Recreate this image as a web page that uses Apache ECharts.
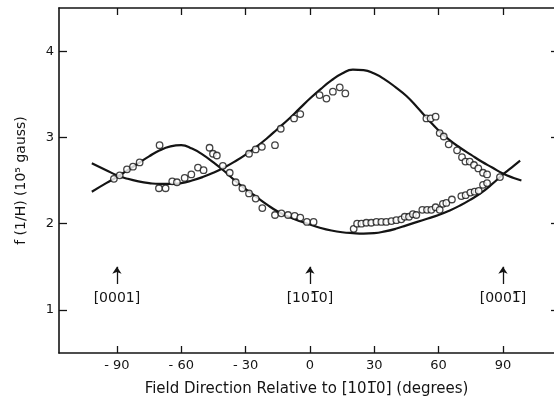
<!DOCTYPE html>
<html>
<head>
<meta charset="utf-8">
<script src="https://cdn.jsdelivr.net/npm/echarts@6/dist/echarts.min.js"></script>
<style>
html,body{margin:0;padding:0;background:#fff;}
#chart{width:554px;height:402px;}
</style>
</head>
<body>
<div id="chart"></div>
<script>
// ---- data ----
const xTickValues = [-90, -60, -30, 0, 30, 60, 90];
const xTickLabels = ['- 90', '- 60', '- 30', '0', '30', '60', '90'];
const yTickValues = [1, 2, 3, 4];

// fitted curve A (small hump near -62, minimum near +25)
const curveAx = [-101.7, -95, -90, -85, -80, -75, -70, -65, -60, -55, -50, -45, -40, -35, -30, -25, -20, -15, -10, -5, 0, 5, 10, 15, 20, 25, 30, 35, 40, 45, 50, 55, 60, 65, 70, 75, 80, 85, 90, 95, 98];
const curveAy = [2.37, 2.47, 2.54, 2.62, 2.70, 2.78, 2.85, 2.895, 2.91, 2.87, 2.80, 2.71, 2.61, 2.50, 2.40, 2.31, 2.22, 2.14, 2.08, 2.03, 1.99, 1.95, 1.92, 1.90, 1.89, 1.885, 1.89, 1.91, 1.94, 1.98, 2.02, 2.06, 2.10, 2.15, 2.21, 2.28, 2.36, 2.46, 2.57, 2.67, 2.73];

// fitted curve B (minimum near -68, large maximum near +22)
const curveBx = [-101.7, -95, -90, -85, -80, -75, -70, -65, -60, -55, -50, -45, -40, -35, -30, -25, -20, -15, -10, -5, 0, 5, 10, 15, 20, 25, 30, 35, 40, 45, 50, 55, 60, 65, 70, 75, 80, 85, 90, 95, 98.6];
const curveBy = [2.70, 2.62, 2.56, 2.52, 2.49, 2.47, 2.46, 2.46, 2.47, 2.50, 2.54, 2.59, 2.65, 2.72, 2.80, 2.89, 2.99, 3.10, 3.21, 3.33, 3.45, 3.56, 3.66, 3.74, 3.785, 3.78, 3.74, 3.67, 3.58, 3.48, 3.35, 3.21, 3.08, 2.97, 2.88, 2.80, 2.72, 2.65, 2.58, 2.53, 2.50];

// measured points (open circles)
const pointX = [-91.4, -88.7, -85.3, -82.5, -79.4, -70.1, -70.4, -67.3, -64.2, -62, -58.4, -55.3, -52.2, -49.6, -46.8, -45.2, -43.4, -40.6, -37.4, -34.6, -31.5, -28.4, -25.3, -22.2, -16.3, -13.3, -10.2, -7.1, -4.5, -1.4, 1.7,
  -28.4, -25.3, -22.4, -16.3, -13.6, -7.4, -4.5, 4.5, 7.7, 10.7, 13.9, 16.5,
  20.4, 22, 24, 26.3, 28.6, 31, 33.3, 35.6, 38, 40.3, 42.6, 44.2, 46.2, 48, 49.6, 52.4, 54.6, 56.6, 58.6, 60.5, 62, 63.6, 66.2, 70.6, 72.6, 74.8, 76.8, 78.7, 80.7, 82.6,
  54.3, 56.3, 58.6, 60.5, 62.4, 64.7, 68.6, 70.9, 72.5, 74.5, 76.5, 78.5, 80.7, 82.6, 88.6];
const pointY = [2.52, 2.56, 2.63, 2.66, 2.71, 2.91, 2.41, 2.41, 2.49, 2.48, 2.53, 2.57, 2.65, 2.62, 2.88, 2.81, 2.79, 2.67, 2.59, 2.48, 2.41, 2.35, 2.29, 2.18, 2.10, 2.12, 2.10, 2.09, 2.07, 2.02, 2.02,
  2.81, 2.86, 2.89, 2.91, 3.10, 3.22, 3.27, 3.49, 3.45, 3.53, 3.58, 3.51,
  1.94, 2.00, 2.00, 2.01, 2.01, 2.02, 2.02, 2.02, 2.03, 2.04, 2.05, 2.08, 2.08, 2.11, 2.10, 2.16, 2.16, 2.16, 2.19, 2.16, 2.23, 2.24, 2.28, 2.32, 2.33, 2.36, 2.37, 2.38, 2.45, 2.47,
  3.22, 3.22, 3.24, 3.05, 3.01, 2.92, 2.85, 2.77, 2.72, 2.72, 2.68, 2.64, 2.59, 2.57, 2.54];

// direction annotations
const annoX = [-90, 0, 90];
const annoLabels = ['[0001]', '[101\u03050]', '[0001\u0305]'];
const arrowFrom = 1.30, arrowTo = 1.50, annoLabelY = 1.135;

// ---- chart ----
const FONT = 'DejaVu Sans';
const INK = '#141414';
const toPairs = (xs, ys) => xs.map((x, i) => [x, ys[i]]);

const chart = echarts.init(document.getElementById('chart'), null, {renderer: 'canvas'});

const axisLine = {show: true, onZero: false, lineStyle: {color: INK, width: 1.6}};

chart.setOption({
  backgroundColor: '#ffffff',
  animation: false,
  grid: {left: 59, right: 0, top: 8, bottom: 49, containLabel: false},
  xAxis: [{
    type: 'value', position: 'bottom', min: -117, max: 113.8,
    axisLine: axisLine,
    axisTick: {show: true, inside: true, length: 7, lineStyle: {color: INK, width: 1.3}, customValues: xTickValues},
    axisLabel: {show: true, margin: 6, fontFamily: FONT, fontSize: 13, color: INK, customValues: xTickValues,
      formatter: v => xTickLabels[xTickValues.indexOf(v)] ?? ''},
    splitLine: {show: false},
    name: 'Field Direction Relative to [101\u03050] (degrees)',
    nameLocation: 'middle', nameGap: 29,
    nameTextStyle: {fontFamily: FONT, fontSize: 15, color: INK}
  }, {
    type: 'value', position: 'top', min: -117, max: 113.8,
    axisLine: axisLine,
    axisTick: {show: true, inside: true, length: 7, lineStyle: {color: INK, width: 1.3}, customValues: xTickValues},
    axisLabel: {show: false},
    splitLine: {show: false}
  }],
  yAxis: [{
    type: 'value', position: 'left', min: 0.5, max: 4.5,
    axisLine: axisLine,
    axisTick: {show: true, inside: true, length: 8, lineStyle: {color: INK, width: 1.3}, customValues: yTickValues},
    axisLabel: {show: true, margin: 5, fontFamily: FONT, fontSize: 13, color: INK, customValues: yTickValues},
    splitLine: {show: false},
    name: 'f (1/H) (10\u2075 gauss)',
    nameLocation: 'middle', nameGap: 31, nameRotate: 90,
    nameTextStyle: {fontFamily: FONT, fontSize: 14, color: INK}
  }, {
    type: 'value', position: 'right', min: 0.5, max: 4.5,
    axisLine: {show: false, onZero: false},
    axisTick: {show: true, inside: true, length: 3, lineStyle: {color: INK, width: 1.3}, customValues: yTickValues},
    axisLabel: {show: false},
    splitLine: {show: false}
  }],
  series: [{
    type: 'line', name: 'A', data: toPairs(curveAx, curveAy), smooth: 0.5,
    showSymbol: false, lineStyle: {color: INK, width: 2.2}, z: 3
  }, {
    type: 'line', name: 'B', data: toPairs(curveBx, curveBy), smooth: 0.5,
    showSymbol: false, lineStyle: {color: INK, width: 2.2}, z: 3
  }, {
    type: 'scatter', name: 'measured', data: toPairs(pointX, pointY),
    symbol: 'circle', symbolSize: 6.5,
    itemStyle: {color: '#ffffff', borderColor: INK, borderWidth: 1.3}, z: 4
  }, {
    type: 'scatter', name: 'directions',
    data: annoX.map((x, i) => ({value: [x, annoLabelY], label: {formatter: annoLabels[i]}})),
    symbol: 'circle', symbolSize: 1,
    itemStyle: {color: 'rgba(0,0,0,0)'},
    label: {show: true, position: 'inside', fontFamily: FONT, fontSize: 14, color: INK,
      textBorderWidth: 0, opacity: 1},
    emphasis: {disabled: true},
    markLine: {
      silent: true, symbol: ['none', 'arrow'], symbolSize: 7,
      lineStyle: {color: INK, width: 1.3, type: 'solid'},
      label: {show: false},
      data: annoX.map(x => [{coord: [x, arrowFrom]}, {coord: [x, arrowTo]}])
    }
  }]
});
</script>
</body>
</html>
